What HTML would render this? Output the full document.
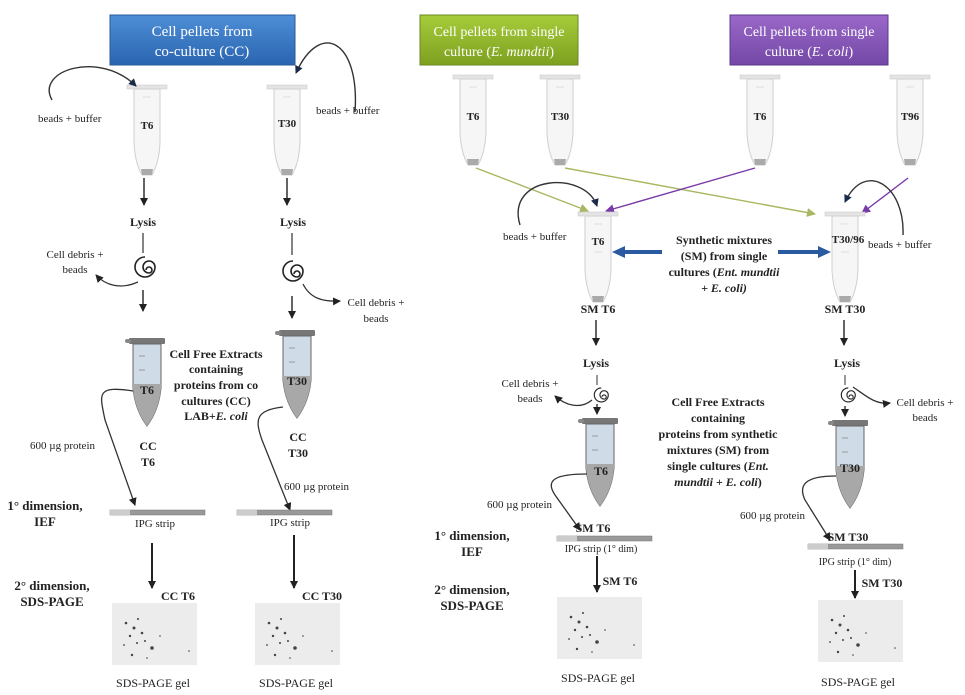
<!DOCTYPE html>
<html><head><meta charset="utf-8"><style>
body{margin:0;background:#fff}
svg{display:block}
text{font-family:"Liberation Serif",serif;fill:#222}
.b{font-weight:bold}
</style></head><body>
<svg width="965" height="695" viewBox="0 0 965 695" xmlns="http://www.w3.org/2000/svg">
<defs>
<marker id="a" markerWidth="8" markerHeight="8" refX="7" refY="4" orient="auto" markerUnits="userSpaceOnUse"><path d="M0,0 L8,4 L0,8 Z" fill="#222"/></marker>
<marker id="an" markerWidth="8" markerHeight="8" refX="7" refY="4" orient="auto" markerUnits="userSpaceOnUse"><path d="M0,0 L8,4 L0,8 Z" fill="#1a2a4a"/></marker>
<marker id="ag" markerWidth="9" markerHeight="9" refX="8" refY="4.5" orient="auto" markerUnits="userSpaceOnUse"><path d="M0,0 L9,4.5 L0,9 Z" fill="#a8b860"/></marker>
<marker id="ap" markerWidth="9" markerHeight="9" refX="8" refY="4.5" orient="auto" markerUnits="userSpaceOnUse"><path d="M0,0 L9,4.5 L0,9 Z" fill="#7a3aa8"/></marker>
<linearGradient id="gb" x1="0" y1="0" x2="0" y2="1"><stop offset="0" stop-color="#4d8fd6"/><stop offset="1" stop-color="#2a64b0"/></linearGradient>
<linearGradient id="gg" x1="0" y1="0" x2="0" y2="1"><stop offset="0" stop-color="#a6cc3a"/><stop offset="1" stop-color="#7ea020"/></linearGradient>
<linearGradient id="gp" x1="0" y1="0" x2="0" y2="1"><stop offset="0" stop-color="#9a68c8"/><stop offset="1" stop-color="#7448a6"/></linearGradient>
<g id="et">
<rect x="-20" y="0" width="40" height="4" fill="#e4e4e4" stroke="#ccc" stroke-width="0.6"/>
<path d="M-13,4 L-13,58 Q-12,78 -5,90 L5,90 Q12,78 13,58 L13,4 Z" fill="#f6f6f6" stroke="#cfcfcf"/>
<path d="M-6,84 L6,84 L5,90 L-5,90 Z" fill="#aaa"/>
<line x1="-4" y1="12" x2="4" y2="12" stroke="#ddd"/><line x1="-4" y1="40" x2="4" y2="40" stroke="#ddd"/>
</g>
<g id="ft">
<rect x="-18" y="0" width="36" height="6" fill="#777" rx="1"/>
<rect x="-22" y="1" width="6" height="4" fill="#888" rx="2"/>
<path d="M-14,6 L-14,50 Q-12,72 0,88 Q12,72 14,50 L14,6 Z" fill="#cfdbe6" stroke="#666"/>
<path d="M-14,46 L-14,50 Q-12,72 0,88 Q12,72 14,50 L14,46 Z" fill="#a8a8a8"/>
<line x1="-8" y1="18" x2="-2" y2="18" stroke="#999"/><line x1="-8" y1="32" x2="-2" y2="32" stroke="#999"/>
</g>
<g id="sp" fill="none" stroke="#222" stroke-width="1.6">
<path d="M0,0 a3,3 0 1,1 3,3 a6,6 0 1,1 6,-6 a10,10 0 1,1 -10,-10"/>
</g>
<g id="strip">
<rect x="0" y="-2" width="95" height="5" fill="#999" stroke="#777" stroke-width="0.5"/>
<rect x="0" y="-2" width="20" height="5" fill="#ccc"/>
</g>
<g id="gel">
<rect x="0" y="0" width="85" height="62" fill="#ececec"/>
<g fill="#444">
<circle cx="14" cy="20" r="1.3"/><circle cx="22" cy="25" r="1.5"/><circle cx="18" cy="33" r="1.2"/><circle cx="30" cy="30" r="1.3"/><circle cx="40" cy="45" r="1.8"/><circle cx="25" cy="40" r="1"/><circle cx="20" cy="52" r="1.2"/><circle cx="33" cy="38" r="1"/><circle cx="12" cy="42" r="0.9"/><circle cx="26" cy="16" r="1"/><circle cx="77" cy="48" r="0.8"/><circle cx="48" cy="33" r="0.8"/><circle cx="35" cy="55" r="0.8"/>
</g>
</g>
</defs>

<!-- top boxes -->
<rect x="110" y="15" width="185" height="50" fill="url(#gb)" stroke="#2a5a9a"/>
<text x="202" y="36" text-anchor="middle" font-size="15" fill="#fff" style="fill:#fff">Cell pellets from</text>
<text x="202" y="56" text-anchor="middle" font-size="15" style="fill:#fff">co-culture (CC)</text>
<rect x="420" y="15" width="158" height="50" fill="url(#gg)" stroke="#6a8a20"/>
<text x="499" y="36" text-anchor="middle" font-size="14" style="fill:#fff">Cell pellets from single</text>
<text x="499" y="56" text-anchor="middle" font-size="14" style="fill:#fff">culture (<tspan font-style="italic">E. mundtii</tspan>)</text>
<rect x="730" y="15" width="158" height="50" fill="url(#gp)" stroke="#5a3a8a"/>
<text x="809" y="36" text-anchor="middle" font-size="14" style="fill:#fff">Cell pellets from single</text>
<text x="809" y="56" text-anchor="middle" font-size="14" style="fill:#fff">culture (<tspan font-style="italic">E. coli</tspan>)</text>

<!-- left CC column tubes -->
<use href="#et" x="147" y="85"/>
<text x="147" y="129" text-anchor="middle" font-size="11" class="b">T6</text>
<use href="#et" x="287" y="85"/>
<text x="287" y="127" text-anchor="middle" font-size="11" class="b">T30</text>
<path d="M52,100 C35,70 100,50 136,86" fill="none" stroke="#333" stroke-width="1.4" marker-end="url(#an)"/>
<text x="38" y="122" font-size="11">beads + buffer</text>
<path d="M355,112 C360,40 320,20 296,73" fill="none" stroke="#333" stroke-width="1.4" marker-end="url(#an)"/>
<text x="316" y="114" font-size="11">beads + buffer</text>

<line x1="144" y1="178" x2="144" y2="205" stroke="#222" stroke-width="1.4" marker-end="url(#a)"/>
<line x1="287" y1="178" x2="287" y2="205" stroke="#222" stroke-width="1.4" marker-end="url(#a)"/>
<text x="143" y="226" text-anchor="middle" font-size="12" class="b">Lysis</text>
<text x="293" y="226" text-anchor="middle" font-size="12" class="b">Lysis</text>
<line x1="143" y1="233" x2="143" y2="253" stroke="#333" stroke-width="1.2"/>
<line x1="292" y1="233" x2="292" y2="255" stroke="#333" stroke-width="1.2"/>
<use href="#sp" x="146" y="270"/>
<use href="#sp" x="294" y="274"/>
<path d="M138,282 C120,290 105,285 96,275" fill="none" stroke="#333" stroke-width="1.3" marker-end="url(#a)"/>
<text x="75" y="258" text-anchor="middle" font-size="11">Cell debris +</text>
<text x="75" y="273" text-anchor="middle" font-size="11">beads</text>
<path d="M303,284 C310,298 322,302 340,301" fill="none" stroke="#333" stroke-width="1.3" marker-end="url(#a)"/>
<text x="376" y="306" text-anchor="middle" font-size="11">Cell debris +</text>
<text x="376" y="322" text-anchor="middle" font-size="11">beads</text>
<line x1="143" y1="290" x2="143" y2="311" stroke="#222" stroke-width="1.4" marker-end="url(#a)"/>
<line x1="292" y1="296" x2="292" y2="318" stroke="#222" stroke-width="1.4" marker-end="url(#a)"/>

<use href="#ft" x="147" y="338"/>
<text x="147" y="394" text-anchor="middle" font-size="12" class="b">T6</text>
<use href="#ft" x="297" y="330"/>
<text x="297" y="385" text-anchor="middle" font-size="12" class="b">T30</text>
<g font-size="12" class="b" text-anchor="middle">
<text x="216" y="358">Cell Free Extracts</text>
<text x="216" y="373">containing</text>
<text x="216" y="389">proteins from co</text>
<text x="216" y="405">cultures (CC)</text>
<text x="216" y="420">LAB+<tspan font-style="italic">E. coli</tspan></text>
<text x="148" y="450">CC</text><text x="148" y="466">T6</text>
<text x="298" y="441">CC</text><text x="298" y="457">T30</text>
</g>
<path d="M133,391 C95,385 100,395 105,420 L135,505" fill="none" stroke="#333" stroke-width="1.3" marker-end="url(#a)"/>
<text x="30" y="449" font-size="11">600 µg protein</text>
<path d="M283,407 C255,410 255,420 262,440 L290,510" fill="none" stroke="#333" stroke-width="1.3" marker-end="url(#a)"/>
<text x="284" y="490" font-size="11">600 µg protein</text>
<use href="#strip" x="110" y="512"/>
<use href="#strip" x="237" y="512"/>
<text x="155" y="527" text-anchor="middle" font-size="11">IPG  strip</text>
<text x="290" y="526" text-anchor="middle" font-size="11">IPG  strip</text>
<text x="45" y="510" text-anchor="middle" font-size="13" class="b">1° dimension,</text>
<text x="45" y="526" text-anchor="middle" font-size="13" class="b">IEF</text>
<text x="52" y="590" text-anchor="middle" font-size="13" class="b">2° dimension,</text>
<text x="52" y="606" text-anchor="middle" font-size="13" class="b">SDS-PAGE</text>
<line x1="152" y1="543" x2="152" y2="588" stroke="#222" stroke-width="2" marker-end="url(#a)"/>
<line x1="294" y1="535" x2="294" y2="588" stroke="#222" stroke-width="2" marker-end="url(#a)"/>
<text x="178" y="600" text-anchor="middle" font-size="12" class="b">CC T6</text>
<text x="322" y="600" text-anchor="middle" font-size="12" class="b">CC T30</text>
<use href="#gel" x="112" y="603"/>
<use href="#gel" x="255" y="603"/>
<text x="153" y="687" text-anchor="middle" font-size="12">SDS-PAGE  gel</text>
<text x="296" y="687" text-anchor="middle" font-size="12">SDS-PAGE  gel</text>

<!-- right side single culture tubes -->
<use href="#et" x="473" y="75"/><text x="473" y="120" text-anchor="middle" font-size="11" class="b">T6</text>
<use href="#et" x="560" y="75"/><text x="560" y="120" text-anchor="middle" font-size="11" class="b">T30</text>
<use href="#et" x="760" y="75"/><text x="760" y="120" text-anchor="middle" font-size="11" class="b">T6</text>
<use href="#et" x="910" y="75"/><text x="910" y="120" text-anchor="middle" font-size="11" class="b">T96</text>
<line x1="476" y1="168" x2="588" y2="211" stroke="#a8b860" stroke-width="1.4" marker-end="url(#ag)"/>
<line x1="565" y1="168" x2="815" y2="214" stroke="#a8b860" stroke-width="1.4" marker-end="url(#ag)"/>
<line x1="755" y1="168" x2="606" y2="211" stroke="#7a3aa8" stroke-width="1.4" marker-end="url(#ap)"/>
<line x1="908" y1="178" x2="862" y2="213" stroke="#7a3aa8" stroke-width="1.4" marker-end="url(#ap)"/>
<use href="#et" x="598" y="212"/>
<text x="598" y="245" text-anchor="middle" font-size="11" class="b">T6</text>
<use href="#et" x="845" y="212"/>
<text x="848" y="243" text-anchor="middle" font-size="11" class="b">T30/96</text>
<path d="M520,225 C505,175 585,170 597,206" fill="none" stroke="#333" stroke-width="1.4" marker-end="url(#an)"/>
<text x="503" y="240" font-size="11">beads + buffer</text>
<path d="M903,235 C905,185 865,160 845,202" fill="none" stroke="#333" stroke-width="1.4" marker-end="url(#an)"/>
<text x="868" y="248" font-size="11">beads + buffer</text>
<path d="M662,250 L625,250 L625,246 L612,252 L625,258 L625,254 L662,254 Z" fill="#2a5aa0"/>
<path d="M778,250 L818,250 L818,246 L831,252 L818,258 L818,254 L778,254 Z" fill="#2a5aa0"/>
<g font-size="12" class="b" text-anchor="middle">
<text x="724" y="244">Synthetic mixtures</text>
<text x="724" y="260">(SM) from single</text>
<text x="724" y="276">cultures (<tspan font-style="italic">Ent. mundtii</tspan></text>
<text x="724" y="292"><tspan font-style="italic">+ E. coli)</tspan></text>
<text x="598" y="313">SM T6</text>
<text x="845" y="313">SM T30</text>
<text x="596" y="367">Lysis</text>
<text x="847" y="367">Lysis</text>
<text x="718" y="406">Cell Free Extracts</text>
<text x="718" y="422">containing</text>
<text x="718" y="438">proteins from synthetic</text>
<text x="718" y="454">mixtures (SM) from</text>
<text x="718" y="470">single cultures (<tspan font-style="italic">Ent.</tspan></text>
<text x="718" y="486"><tspan font-style="italic">mundtii + E. coli</tspan>)</text>
</g>
<line x1="596" y1="320" x2="596" y2="345" stroke="#222" stroke-width="1.4" marker-end="url(#a)"/>
<line x1="844" y1="320" x2="844" y2="345" stroke="#222" stroke-width="1.4" marker-end="url(#a)"/>
<line x1="597" y1="375" x2="597" y2="385" stroke="#333"/>
<line x1="845" y1="375" x2="845" y2="385" stroke="#333"/>
<g transform="translate(602,397) scale(0.7)"><use href="#sp"/></g>
<g transform="translate(849,397) scale(0.7)"><use href="#sp"/></g>
<path d="M592,400 C580,410 565,405 555,396" fill="none" stroke="#333" stroke-width="1.3" marker-end="url(#a)"/>
<text x="530" y="387" text-anchor="middle" font-size="11">Cell debris +</text>
<text x="530" y="402" text-anchor="middle" font-size="11">beads</text>
<path d="M853,387 C865,395 875,405 890,403" fill="none" stroke="#333" stroke-width="1.3" marker-end="url(#a)"/>
<text x="925" y="406" text-anchor="middle" font-size="11">Cell debris +</text>
<text x="925" y="421" text-anchor="middle" font-size="11">beads</text>
<line x1="597" y1="404" x2="597" y2="414" stroke="#222" stroke-width="1.3" marker-end="url(#a)"/>
<line x1="845" y1="406" x2="845" y2="416" stroke="#222" stroke-width="1.3" marker-end="url(#a)"/>
<use href="#ft" x="600" y="418"/>
<text x="601" y="475" text-anchor="middle" font-size="12" class="b">T6</text>
<use href="#ft" x="850" y="420"/>
<text x="850" y="472" text-anchor="middle" font-size="12" class="b">T30</text>
<path d="M587,474 C555,474 545,480 555,495 L580,530" fill="none" stroke="#333" stroke-width="1.3" marker-end="url(#a)"/>
<text x="487" y="508" font-size="11">600 µg protein</text>
<path d="M836,476 C805,476 798,485 805,500 L830,540" fill="none" stroke="#333" stroke-width="1.3" marker-end="url(#a)"/>
<text x="740" y="519" font-size="11">600 µg protein</text>
<text x="593" y="532" text-anchor="middle" font-size="12" class="b">SM T6</text>
<text x="848" y="541" text-anchor="middle" font-size="12" class="b">SM T30</text>
<use href="#strip" x="557" y="538"/>
<use href="#strip" x="808" y="546"/>
<text x="601" y="552" text-anchor="middle" font-size="10">IPG strip (1° dim)</text>
<text x="855" y="565" text-anchor="middle" font-size="10">IPG strip (1° dim)</text>
<text x="472" y="540" text-anchor="middle" font-size="13" class="b">1° dimension,</text>
<text x="472" y="556" text-anchor="middle" font-size="13" class="b">IEF</text>
<text x="472" y="594" text-anchor="middle" font-size="13" class="b">2° dimension,</text>
<text x="472" y="610" text-anchor="middle" font-size="13" class="b">SDS-PAGE</text>
<line x1="597" y1="556" x2="597" y2="592" stroke="#222" stroke-width="2" marker-end="url(#a)"/>
<line x1="855" y1="570" x2="855" y2="598" stroke="#222" stroke-width="2" marker-end="url(#a)"/>
<text x="620" y="585" text-anchor="middle" font-size="12" class="b">SM T6</text>
<text x="882" y="587" text-anchor="middle" font-size="12" class="b">SM T30</text>
<use href="#gel" x="557" y="597"/>
<use href="#gel" x="818" y="600"/>
<text x="598" y="682" text-anchor="middle" font-size="12">SDS-PAGE gel</text>
<text x="858" y="686" text-anchor="middle" font-size="12">SDS-PAGE gel</text>
</svg>
</body></html>
